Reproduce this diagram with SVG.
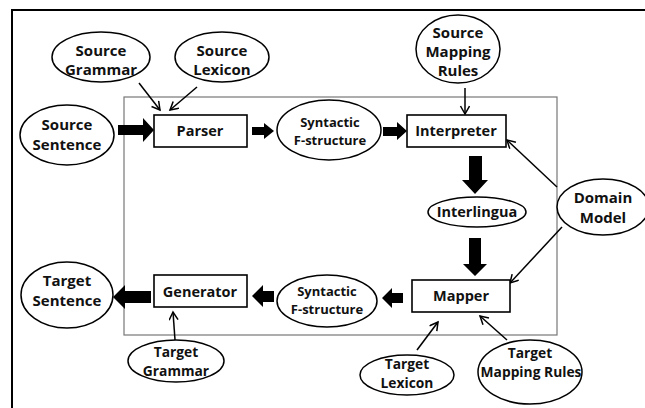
<svg xmlns="http://www.w3.org/2000/svg" width="645" height="408" viewBox="0 0 645 408">
<style>
text{font-family:"Open Sans","Liberation Sans",sans-serif;font-weight:700;font-size:15px;fill:#111;text-anchor:middle}
.el{fill:#fff;stroke:#000;stroke-width:1.5}
.bx{fill:#fff;stroke:#000;stroke-width:1.6}
.thin{stroke:#000;stroke-width:1.5;fill:none;marker-end:url(#v)}
.thick{fill:#000}
.b{font-size:14.5px}
.sm{font-size:13px}
.t{font-size:13.8px}
</style>
<defs>
<marker id="v" markerUnits="userSpaceOnUse" markerWidth="12" markerHeight="12" refX="9" refY="5" orient="auto">
<path d="M1,0.5 L9,5 L1,9.5" fill="none" stroke="#000" stroke-width="1.5"/>
</marker>
</defs>
<rect width="645" height="408" fill="#fff"/>
<path d="M12,408 V10 H645" fill="none" stroke="#000" stroke-width="2"/>
<rect x="124" y="97" width="433" height="238" fill="none" stroke="#777" stroke-width="1.2"/>

<g id="connectors">
<line class="thin" x1="139" y1="83" x2="160" y2="110"/>
<line class="thin" x1="197" y1="87" x2="170" y2="110"/>
<line class="thin" x1="465" y1="88" x2="465" y2="114"/>
<line class="thin" x1="557" y1="187" x2="507" y2="140"/>
<line class="thin" x1="562" y1="227" x2="510" y2="283"/>
<line class="thin" x1="175" y1="340" x2="173" y2="312"/>
<line class="thin" x1="417" y1="350" x2="438" y2="322"/>
<line class="thin" x1="507" y1="340" x2="480" y2="316"/>
<polygon class="thick" points="118,125 143,125 143,118 154,130 143,142 143,135 118,135"/>
<polygon class="thick" points="252,127 264,127 264,123 274,131 264,139 264,135 252,135"/>
<polygon class="thick" points="383,127 397,127 397,122 407,131 397,140 397,136 383,136"/>
<polygon class="thick" points="469,156 482,156 482,180 488,180 475,194 462,180 469,180"/>
<polygon class="thick" points="469,238 481,238 481,264 487,264 475,276 463,264 469,264"/>
<polygon class="thick" points="403,293 392,293 392,288 382,298 392,308 392,303 403,303"/>
<polygon class="thick" points="274,291 263,291 263,285 252,296 263,307 263,302 274,302"/>
<polygon class="thick" points="151,291 125,291 125,285 113,297 125,309 125,303 151,303"/>
</g>

<g id="source-grammar"><ellipse class="el" cx="101" cy="57" rx="49" ry="25"/><text x="101" y="56">Source</text><text x="101" y="75">Grammar</text></g>
<g id="source-lexicon"><ellipse class="el" cx="222" cy="57" rx="47" ry="25"/><text x="222" y="56">Source</text><text x="222" y="75">Lexicon</text></g>
<g id="source-sentence"><ellipse class="el" cx="67" cy="135" rx="47" ry="30"/><text x="67" y="130">Source</text><text x="67" y="150">Sentence</text></g>
<g id="source-mapping-rules"><ellipse class="el" cx="458" cy="49" rx="42" ry="34"/><text x="458" y="38">Source</text><text x="458" y="57">Mapping</text><text x="458" y="76">Rules</text></g>
<g id="parser"><rect class="bx" x="154" y="115" width="93" height="32"/><text class="b" x="200" y="136">Parser</text></g>
<g id="syntactic-1"><ellipse class="el" cx="329" cy="130" rx="52" ry="30"/><text class="sm" x="330" y="127">Syntactic</text><text class="sm" x="330" y="145">F-structure</text></g>
<g id="interpreter"><rect class="bx" x="407" y="115" width="99" height="32"/><text class="b" x="456" y="136">Interpreter</text></g>
<g id="interlingua"><ellipse class="el" cx="477" cy="212" rx="49" ry="15"/><text class="b" x="477" y="217">Interlingua</text></g>
<g id="domain-model"><ellipse class="el" cx="603" cy="207" rx="46" ry="28"/><text x="603" y="203">Domain</text><text x="603" y="223">Model</text></g>
<g id="mapper"><rect class="bx" x="412" y="280" width="98" height="32"/><text class="b" x="461" y="301">Mapper</text></g>
<g id="syntactic-2"><ellipse class="el" cx="327" cy="301" rx="50" ry="26"/><text class="sm" x="327" y="296">Syntactic</text><text class="sm" x="327" y="314">F-structure</text></g>
<g id="generator"><rect class="bx" x="154" y="275" width="93" height="32"/><text class="b" x="200" y="297">Generator</text></g>
<g id="target-sentence"><ellipse class="el" cx="67" cy="295" rx="46" ry="33"/><text x="67" y="286">Target</text><text x="67" y="306">Sentence</text></g>
<g id="target-grammar"><ellipse class="el" cx="176" cy="361" rx="48" ry="21"/><text class="t" x="176" y="357">Target</text><text class="t" x="176" y="376">Grammar</text></g>
<g id="target-lexicon"><ellipse class="el" cx="407" cy="375" rx="47" ry="20"/><text class="t" x="407" y="369">Target</text><text class="t" x="407" y="388">Lexicon</text></g>
<g id="target-mapping-rules"><ellipse class="el" cx="530" cy="372" rx="52" ry="32"/><text class="t" x="530" y="358">Target</text><text class="t" x="531" y="377">Mapping Rules</text></g>
</svg>
